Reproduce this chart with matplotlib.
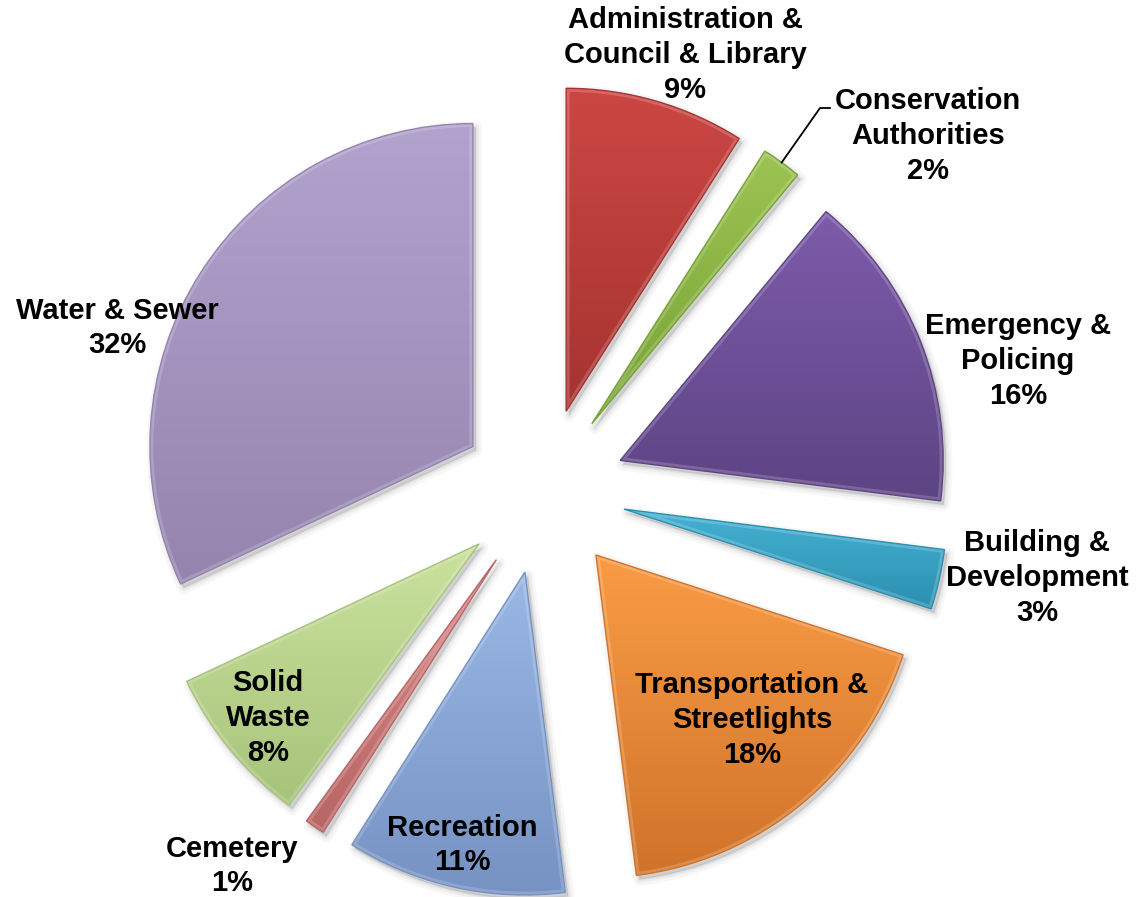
import numpy as np
import matplotlib
matplotlib.use('Agg')
import matplotlib.pyplot as plt
from matplotlib.colors import to_rgb
from matplotlib.patches import Wedge

# data
categories = ['Administration &\nCouncil & Library', 'Conservation\nAuthorities',
              'Emergency &\nPolicing', 'Building &\nDevelopment',
              'Transportation &\nStreetlights', 'Recreation', 'Cemetery',
              'Solid\nWaste', 'Water & Sewer']
shares = [9, 2, 16, 3, 18, 11, 1, 8, 32]
top_colors = ['#CC4744', '#9CC453', '#7D5BAA', '#45B2D3', '#FA9C45',
              '#9AB8E6', '#D88988', '#CAE29E', '#B2A2CE']
bottom_colors = ['#A53330', '#76A233', '#5D4484', '#2B8FB0', '#D0732A',
                 '#7592C2', '#B86665', '#A7C37A', '#9484AE']

# layout (pixels, origin top-left)
W, H = 1137, 897
cx, cy = 543, H - 491
R = 323
EXPLODE = 83
label_xy = [(685, 55), (928, 136), (1018, 361), (1037, 578), (752, 720),
            (462, 845), (232, 866), (268, 718), (117, 328)]
leader_start = (830, 108)

fig = plt.figure(figsize=(W / 100, H / 100), dpi=100)
ax = fig.add_axes([0, 0, 1, 1])

wedges, _ = ax.pie(shares, explode=[EXPLODE] * len(shares), startangle=90,
                   counterclock=False, center=(cx, cy), radius=R,
                   wedgeprops=dict(linewidth=0))

for i, w in enumerate(wedges):
    w.set_facecolor('none')
    w.set_zorder(3)
    c = w.center
    # soft shadow
    for lw, a in ((9, 0.03), (5, 0.04), (2, 0.05)):
        ax.add_patch(Wedge((c[0] + 3, c[1] - 4), w.r, w.theta1, w.theta2,
                           facecolor='black', edgecolor='black', alpha=a,
                           lw=lw, joinstyle='round', zorder=1))
    # vertical gradient fill
    v = w.get_path().vertices
    x0, y0 = v.min(0)
    x1, y1 = v.max(0)
    t = np.linspace(0, 1, 256)[:, None]
    top = np.array(to_rgb(top_colors[i]))
    bot = np.array(to_rgb(bottom_colors[i]))
    grad = (bot * (1 - t) + top * t)[:, None, :]
    im = ax.imshow(grad, extent=(x0, x1, y0, y1), origin='lower',
                   aspect='auto', interpolation='bilinear', zorder=2)
    im.set_clip_path(w)
    # bevel highlight + outline
    hl = Wedge(c, w.r, w.theta1, w.theta2, facecolor='none',
               edgecolor='white', alpha=0.18, lw=5, zorder=3)
    ax.add_patch(hl)
    hl.set_clip_path(w)
    ax.add_patch(Wedge(c, w.r, w.theta1, w.theta2, facecolor='none',
                       edgecolor=bottom_colors[i], lw=1.0, zorder=4))

for i, (x, y) in enumerate(label_xy):
    ax.text(x, H - y, f'{categories[i]}\n{shares[i]}%', ha='center',
            va='center', multialignment='center', fontsize=21,
            fontweight='bold', family=['Liberation Sans', 'DejaVu Sans'],
            linespacing=1.3, zorder=6)

# leader line for the thin conservation slice
w = wedges[1]
mid = np.deg2rad((w.theta1 + w.theta2) / 2)
ex = w.center[0] + w.r * np.cos(mid)
ey = w.center[1] + w.r * np.sin(mid)
ax.plot([leader_start[0], leader_start[0] - 10, ex],
        [H - leader_start[1], H - leader_start[1], ey],
        color='black', lw=1.3, zorder=5)

ax.set_xlim(0, W)
ax.set_ylim(0, H)
ax.set_aspect('equal')
ax.axis('off')
fig.savefig('out.png', dpi=100, facecolor='white')
